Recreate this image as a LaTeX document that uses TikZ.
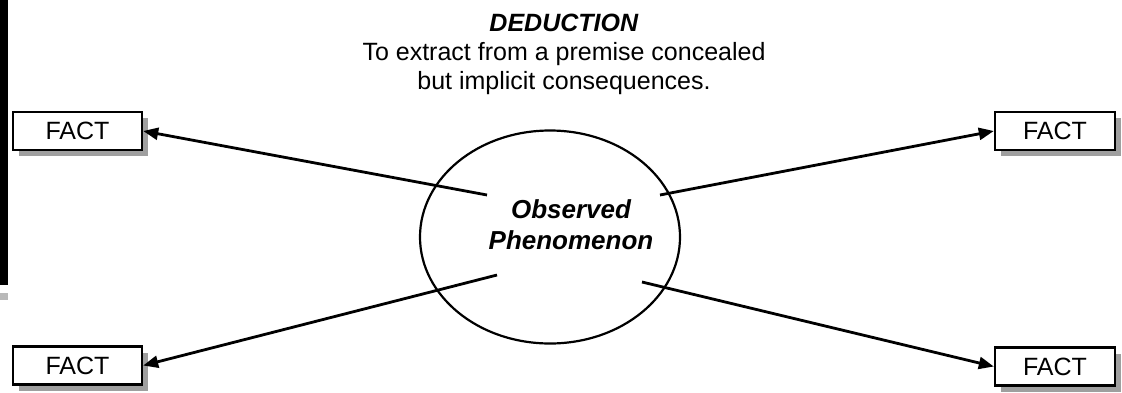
\documentclass[tikz,border=0pt]{standalone}
\usepackage{fontspec}
\setmainfont{Liberation Sans}
\usetikzlibrary{arrows.meta,shapes.geometric,shadows}
\begin{document}
\begin{tikzpicture}[x=1pt,y=-1pt,
  factbox/.style={draw=black, line width=2.4pt, fill=white, minimum width=#1, minimum height=38pt,
    inner sep=0pt, font=\fontsize{25}{28}\selectfont,
    drop shadow={shadow xshift=6pt, shadow yshift=-6pt, fill=gray!75, opacity=1}},
  factbox/.default=129pt,
  conn/.style={line width=2.8pt, -{Triangle[length=15pt,width=12pt]}},
]
\useasboundingbox (0,0) rectangle (1122,392);
\fill[white] (0,0) rectangle (1122,392);
% left edge artefacts
\fill[black] (0,0) rectangle (8,285);
\fill[gray!55] (0,293) rectangle (8,300);

% title
\node[align=center, font=\fontsize{25}{29}\selectfont] (title) at (564,54)
  {\textbf{\textit{DEDUCTION}}\\To extract from a premise concealed\\but implicit consequences.};

% ellipse
\node[ellipse, draw, line width=2.2pt, minimum width=260pt, minimum height=213pt, inner sep=0pt] (ell) at (550,237) {};
\node[align=center, font=\fontsize{26}{31}\selectfont\bfseries\itshape] (lbl) at (571,225) {Observed\\Phenomenon};

% boxes
\node[factbox] (tl) at (77.5,131) {FACT};
\node[factbox] (bl) at (77.5,365.5) {FACT};
\node[factbox=120pt] (tr) at (1055,131) {FACT};
\node[factbox=120pt] (br) at (1055,366.5) {FACT};

% start points
\coordinate (stl) at (487,195);
\coordinate (str) at (660,195);
\coordinate (sbl) at (497,275);
\coordinate (sbr) at (642,282);

\draw[conn] (stl) -- (tl.east);
\draw[conn] (str) -- (tr.west);
\draw[conn] (sbl) -- (bl.east);
\draw[conn] (sbr) -- (br.west);
\end{tikzpicture}
\end{document}
